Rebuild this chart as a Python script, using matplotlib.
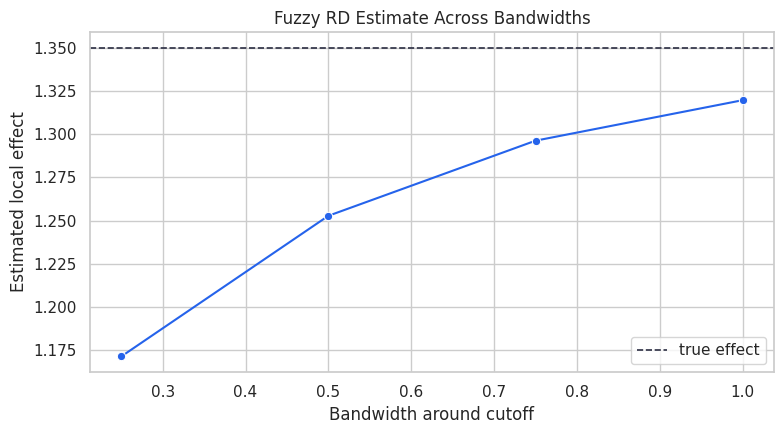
import matplotlib
matplotlib.use("Agg")
import matplotlib.pyplot as plt
import seaborn as sns

bandwidths = [0.25, 0.5, 0.75, 1.0]
estimates = [1.1715, 1.2528, 1.2962, 1.3196]
true_effect = 1.35

sns.set_theme(style="whitegrid")

fig, ax = plt.subplots(figsize=(7.84, 4.34), dpi=100)
sns.lineplot(x=bandwidths, y=estimates, marker="o", color="#2563eb", ax=ax)
ax.axhline(true_effect, linestyle="--", color="#2b2d42", linewidth=1.2, label="true effect")
ax.set_title("Fuzzy RD Estimate Across Bandwidths")
ax.set_xlabel("Bandwidth around cutoff")
ax.set_ylabel("Estimated local effect")
ax.legend(loc="lower right")
fig.subplots_adjust(left=0.115, right=0.987, top=0.926, bottom=0.143)
fig.savefig("out.png")
